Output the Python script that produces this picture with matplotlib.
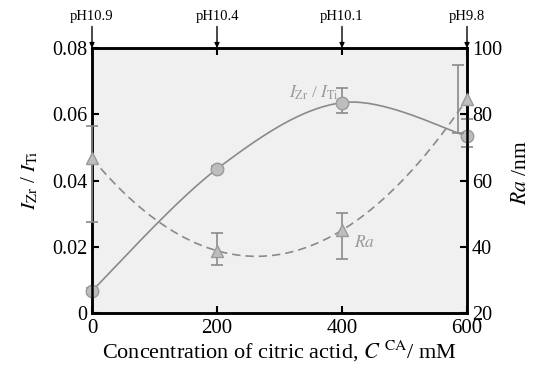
import numpy as np
import matplotlib.pyplot as plt

plt.rcParams['font.family'] = ['Liberation Serif', 'DejaVu Serif']
plt.rcParams['mathtext.fontset'] = 'stix'

conc = [0, 200, 400, 600]
ratio = [0.0067, 0.0435, 0.0635, 0.0534]
ratio_lo = [0.0058, 0.0427, 0.0604, 0.0500]
ratio_hi = [0.0076, 0.0443, 0.0680, 0.0585]
ra = [66.7, 38.8, 45.0, 84.6]
ra_lo = [47.6, 34.5, 36.3, 74.3]
ra_hi = [76.5, 44.1, 50.3, 94.9]
ph_labels = ['pH10.9', 'pH10.4', 'pH10.1', 'pH9.8']


def smooth(xp, yp, n=60):
    # spreadsheet-style smoothed line (bezier through the points)
    xp = np.asarray(xp, float)
    yp = np.asarray(yp, float)
    pts = np.column_stack([xp, yp])
    out = []
    t = np.linspace(0, 1, n)[:, None]
    for i in range(len(pts) - 1):
        p0, p1 = pts[i], pts[i + 1]
        prev = pts[i - 1] if i > 0 else p0
        nxt = pts[i + 2] if i + 2 < len(pts) else p1
        c1 = p0 + (p1 - prev) / 6
        c2 = p1 - (nxt - p0) / 6
        seg = ((1 - t) ** 3) * p0 + 3 * ((1 - t) ** 2) * t * c1 \
            + 3 * (1 - t) * t ** 2 * c2 + t ** 3 * p1
        out.append(seg)
    out = np.vstack(out)
    return out[:, 0], out[:, 1]


fig = plt.figure(figsize=(5.34, 3.74), dpi=100)
ax = fig.add_axes([92 / 534, 1 - 313 / 374, 375 / 534, 265 / 374])
ax.set_facecolor('#f0f0f0')
ax2 = ax.twinx()

grey_line = '#8a8a8a'
grey_fill = '#bdbdbd'

sx, sy = smooth(conc, ratio)
ax.plot(sx, sy, color=grey_line, lw=1.2, zorder=2)
xs = np.linspace(0, 600, 200)
c2 = np.polyfit(conc, ra, 3)
ax2.plot(xs, np.polyval(c2, xs), color=grey_line, lw=1.2, ls=(0, (5, 3)), zorder=2)

r = np.array(ratio)
ax.errorbar(conc, ratio, yerr=[r - np.array(ratio_lo), np.array(ratio_hi) - r],
            fmt='o', ms=9, mfc=grey_fill, mec='#9a9a9a', ecolor=grey_line,
            elinewidth=1.2, capsize=4, capthick=1.2, clip_on=False, zorder=3)
a = np.array(ra)
# last Ra error bar sits just left of the marker in the original
ex = [0, 200, 400, 585]
ax2.errorbar(ex, ra, yerr=[a - np.array(ra_lo), np.array(ra_hi) - a],
             fmt='none', ecolor=grey_line, elinewidth=1.2, capsize=4,
             capthick=1.2, clip_on=False, zorder=3)
ax2.plot(conc, ra, '^', ms=9, mfc=grey_fill, mec='#9a9a9a', clip_on=False, zorder=4)

ax.set_xlim(0, 600)
ax.set_ylim(0, 0.08)
ax2.set_ylim(20, 100)
ax.set_xticks([0, 200, 400, 600])
ax.set_yticks([0, 0.02, 0.04, 0.06, 0.08])
ax.set_yticklabels(['0', '0.02', '0.04', '0.06', '0.08'])
ax2.set_yticks([20, 40, 60, 80, 100])

for s in ax.spines.values():
    s.set_linewidth(1.8)
for s in ax2.spines.values():
    s.set_linewidth(1.8)

ax.tick_params(direction='in', length=5, width=1.5, labelsize=14.5, top=True)
ax.tick_params(axis='x', labelsize=15, pad=4)
ax2.tick_params(direction='in', length=5, width=1.5, labelsize=14.5)

ax.set_ylabel(r'$I_{\rm Zr}$ / $I_{\rm Ti}$', fontsize=15, labelpad=8)
ax2.set_ylabel(r'$Ra$ /nm', fontsize=15.5)
ax2.yaxis.set_label_coords(1.12, 0.53)
ax.set_xlabel(r'Concentration of citric actid, $C$ $^{\rm CA}$/ mM', fontsize=16, labelpad=1)

ax.text(395, 0.0665, r'$I_{\rm Zr}$ / $I_{\rm Ti}$', color='#999999', fontsize=12.5,
        ha='right', va='center')
ax2.text(420, 41.0, r'$Ra$', color='#999999', fontsize=12.5, ha='left', va='center')

for xv, lab in zip(conc, ph_labels):
    ax.annotate('', xy=(xv, 0.08), xytext=(xv, 0.0865),
                arrowprops=dict(arrowstyle='-|>', color='black', lw=1.0,
                                mutation_scale=7, shrinkA=0, shrinkB=0),
                annotation_clip=False)
    ax.text(xv, 0.0875, lab, ha='center', va='bottom', fontsize=10.5)

fig.savefig('out.png', dpi=100)
